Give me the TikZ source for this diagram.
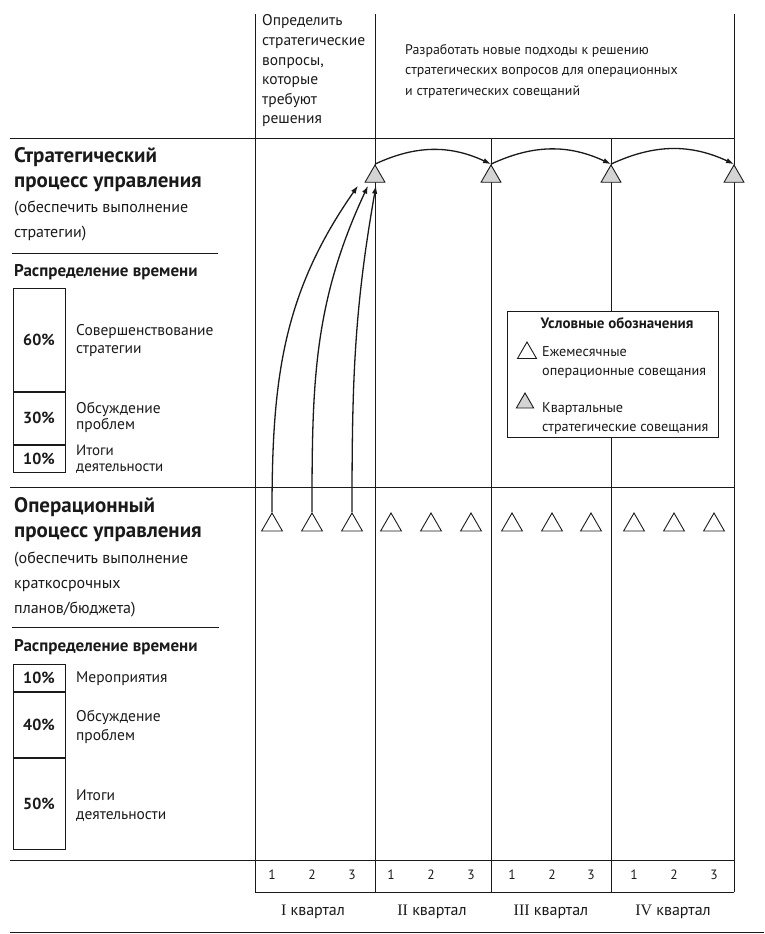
\documentclass[tikz,border=0pt]{standalone}
\usepackage{fontspec}
\setmainfont{PT Sans}
\newfontfamily\romanfont{Liberation Serif}
\usepackage{tikz}
\usetikzlibrary{positioning,shapes.geometric,arrows.meta}
\definecolor{planInk}{HTML}{1A1A1A}
\definecolor{planShade}{HTML}{D4D4D4}

\begin{document}
\begin{tikzpicture}[x=1pt,y=1pt,
  rule/.style={planInk,line width=1pt},
  meet/.style={regular polygon,regular polygon sides=3,draw=planInk,
               line width=0.9pt,minimum size=24pt,inner sep=0pt,fill=white},
  qmeet/.style={meet,fill=planShade,minimum size=23pt},
  head/.style={font=\fontsize{21}{25}\selectfont\bfseries,anchor=west,
               inner sep=0pt,align=left,text=planInk},
  sub/.style={font=\fontsize{16}{25}\selectfont,anchor=west,
              inner sep=0pt,align=left,text=planInk},
  share/.style={font=\fontsize{17}{18}\selectfont\bfseries,anchor=west,
                inner sep=0pt,text=planInk},
  pbox/.style={draw=planInk,line width=1pt,minimum width=52pt,inner sep=0pt,
               font=\fontsize{16}{17}\selectfont\bfseries,text=planInk},
  desc/.style={font=\fontsize{15.5}{18}\selectfont,anchor=west,
               inner sep=0pt,align=left,text=planInk},
  top/.style={font=\fontsize{15.5}{19.6}\selectfont,anchor=west,
              inner sep=0pt,align=left,text=planInk},
  key/.style={font=\fontsize{14.2}{19}\selectfont,anchor=west,
              inner sep=0pt,align=left,text=planInk},
  num/.style={font=\fontsize{13.5}{15}\selectfont,inner sep=0pt,text=planInk},
  quarter/.style={font=\fontsize{16}{18}\selectfont,inner sep=0pt,text=planInk},
  flow/.style={-{Latex[length=8pt,width=5.5pt]},planInk,line width=1.3pt}]
  \useasboundingbox (0,0) rectangle (764,-934);

  % grid
  \draw[rule] (10,-138) -- (734,-138);
  \draw[rule] (10,-487) -- (734,-487);
  \draw[rule] (10,-860) -- (734,-860);
  \draw[rule] (255,-892) -- (734,-892);
  \draw[rule] (10,-932) -- (764,-932);
  \draw[rule] (12,-253) -- (218,-253);
  \draw[rule] (12,-627) -- (219,-627);
  \draw[rule] (255,-14) -- (255,-892);
  \draw[rule] (375,-14) -- (375,-892);
  \draw[rule] (491,-138) -- (491,-892);
  \draw[rule] (611,-138) -- (611,-892);
  \draw[rule] (734,-14) -- (734,-892);

  % header
  \node[top] (define) at (262,-71)
    {Определить\\стратегические\\вопросы,\\которые\\требуют\\решения};
  \node[top,font=\fontsize{13.9}{20.5}\selectfont] (develop) at (405,-71)
    {Разработать новые подходы к решению\\стратегических вопросов для операционных\\и стратегических совещаний};

  % strategic process
  \node[head] (strat) at (14,-170) {Стратегический\\процесс управления};
  \node[sub] (stratgoal) at (14,-221) {(обеспечить выполнение\\стратегии)};
  \node[share] (stratshare) at (14,-272) {Распределение времени};
  \node[pbox,minimum height=103pt] (sa) at (39,-339.5) {60\%};
  \node[pbox,minimum height=52pt,below=0pt of sa] (sb) {30\%};
  \node[pbox,minimum height=27pt,below=0pt of sb] (sc) {10\%};
  \node[desc] (sadesc) at (76,-341) {Совершенствование\\стратегии};
  \node[desc,font=\fontsize{15.5}{16}\selectfont] (sbdesc) at (76,-417) {Обсуждение\\проблем};
  \node[desc,font=\fontsize{15}{15.5}\selectfont] (scdesc) at (76,-459) {Итоги\\деятельности};

  % operational process
  \node[head] (oper) at (14,-520) {Операционный\\процесс управления};
  \node[sub] (opergoal) at (14,-584) {(обеспечить выполнение\\краткосрочных\\планов/бюджета)};
  \node[share] (opershare) at (14,-647) {Распределение времени};
  \node[pbox,minimum height=27pt] (oa) at (39,-677.5) {10\%};
  \node[pbox,minimum height=65pt,below=0pt of oa] (ob) {40\%};
  \node[pbox,minimum height=91pt,below=0pt of ob] (oc) {50\%};
  \node[desc] (oadesc) at (76,-679) {Мероприятия};
  \node[desc,font=\fontsize{15.5}{19}\selectfont] (obdesc) at (76,-727) {Обсуждение\\проблем};
  \node[desc,font=\fontsize{15.5}{19}\selectfont] (ocdesc) at (76,-806) {Итоги\\деятельности};

  % meetings
  \foreach \x [count=\i] in {375,491,611,734}
    \node[qmeet] (s\i) at (\x,-176.5) {};
  \foreach \x [count=\i] in {272,312,352,391,431,471,512,552,591,634,674,714}
    \node[meet] (o\i) at (\x,-525) {};

  \draw[flow] (o1.corner 1) to[out=90,in=235] ([xshift=-17pt,yshift=-3pt]s1.south);
  \draw[flow] (o2.corner 1) to[out=90,in=245] ([xshift=-7pt,yshift=-3pt]s1.south);
  \draw[flow] (o3.corner 1) to[out=90,in=260] ([xshift=1pt,yshift=-3pt]s1.south);
  \foreach \a/\b in {1/2,2/3,3/4}
    \draw[flow] (s\a.corner 1) to[bend left=25] (s\b.corner 1);

  % legend
  \node[draw=planInk,line width=1pt,fill=white,minimum width=211pt,
        minimum height=126pt] (legend) at (612.5,-374) {};
  \node[font=\fontsize{15}{17}\selectfont\bfseries,text=planInk] (legtitle)
    at (617,-323) {Условные обозначения};
  \node[meet,minimum size=22pt] (legmonth) at (527,-353) {};
  \node[key] (legmonthtxt) at (542,-362) {Ежемесячные\\операционные совещания};
  \node[qmeet,minimum size=20pt] (legquart) at (525,-403) {};
  \node[key] (legquarttxt) at (542,-418) {Квартальные\\стратегические совещания};

  % months and quarters
  \foreach \i [evaluate=\i as \m using {int(mod(\i-1,3)+1)}] in {1,...,12}
    \node[num] (n\i) at (o\i |- 0,-875) {\m};
  \node[quarter] (q1) at (313,-912) {{\romanfont I} квартал};
  \node[quarter] (q2) at (432,-912) {{\romanfont II} квартал};
  \node[quarter] (q3) at (551,-912) {{\romanfont III} квартал};
  \node[quarter] (q4) at (673,-912) {{\romanfont IV} квартал};
\end{tikzpicture}
\end{document}
